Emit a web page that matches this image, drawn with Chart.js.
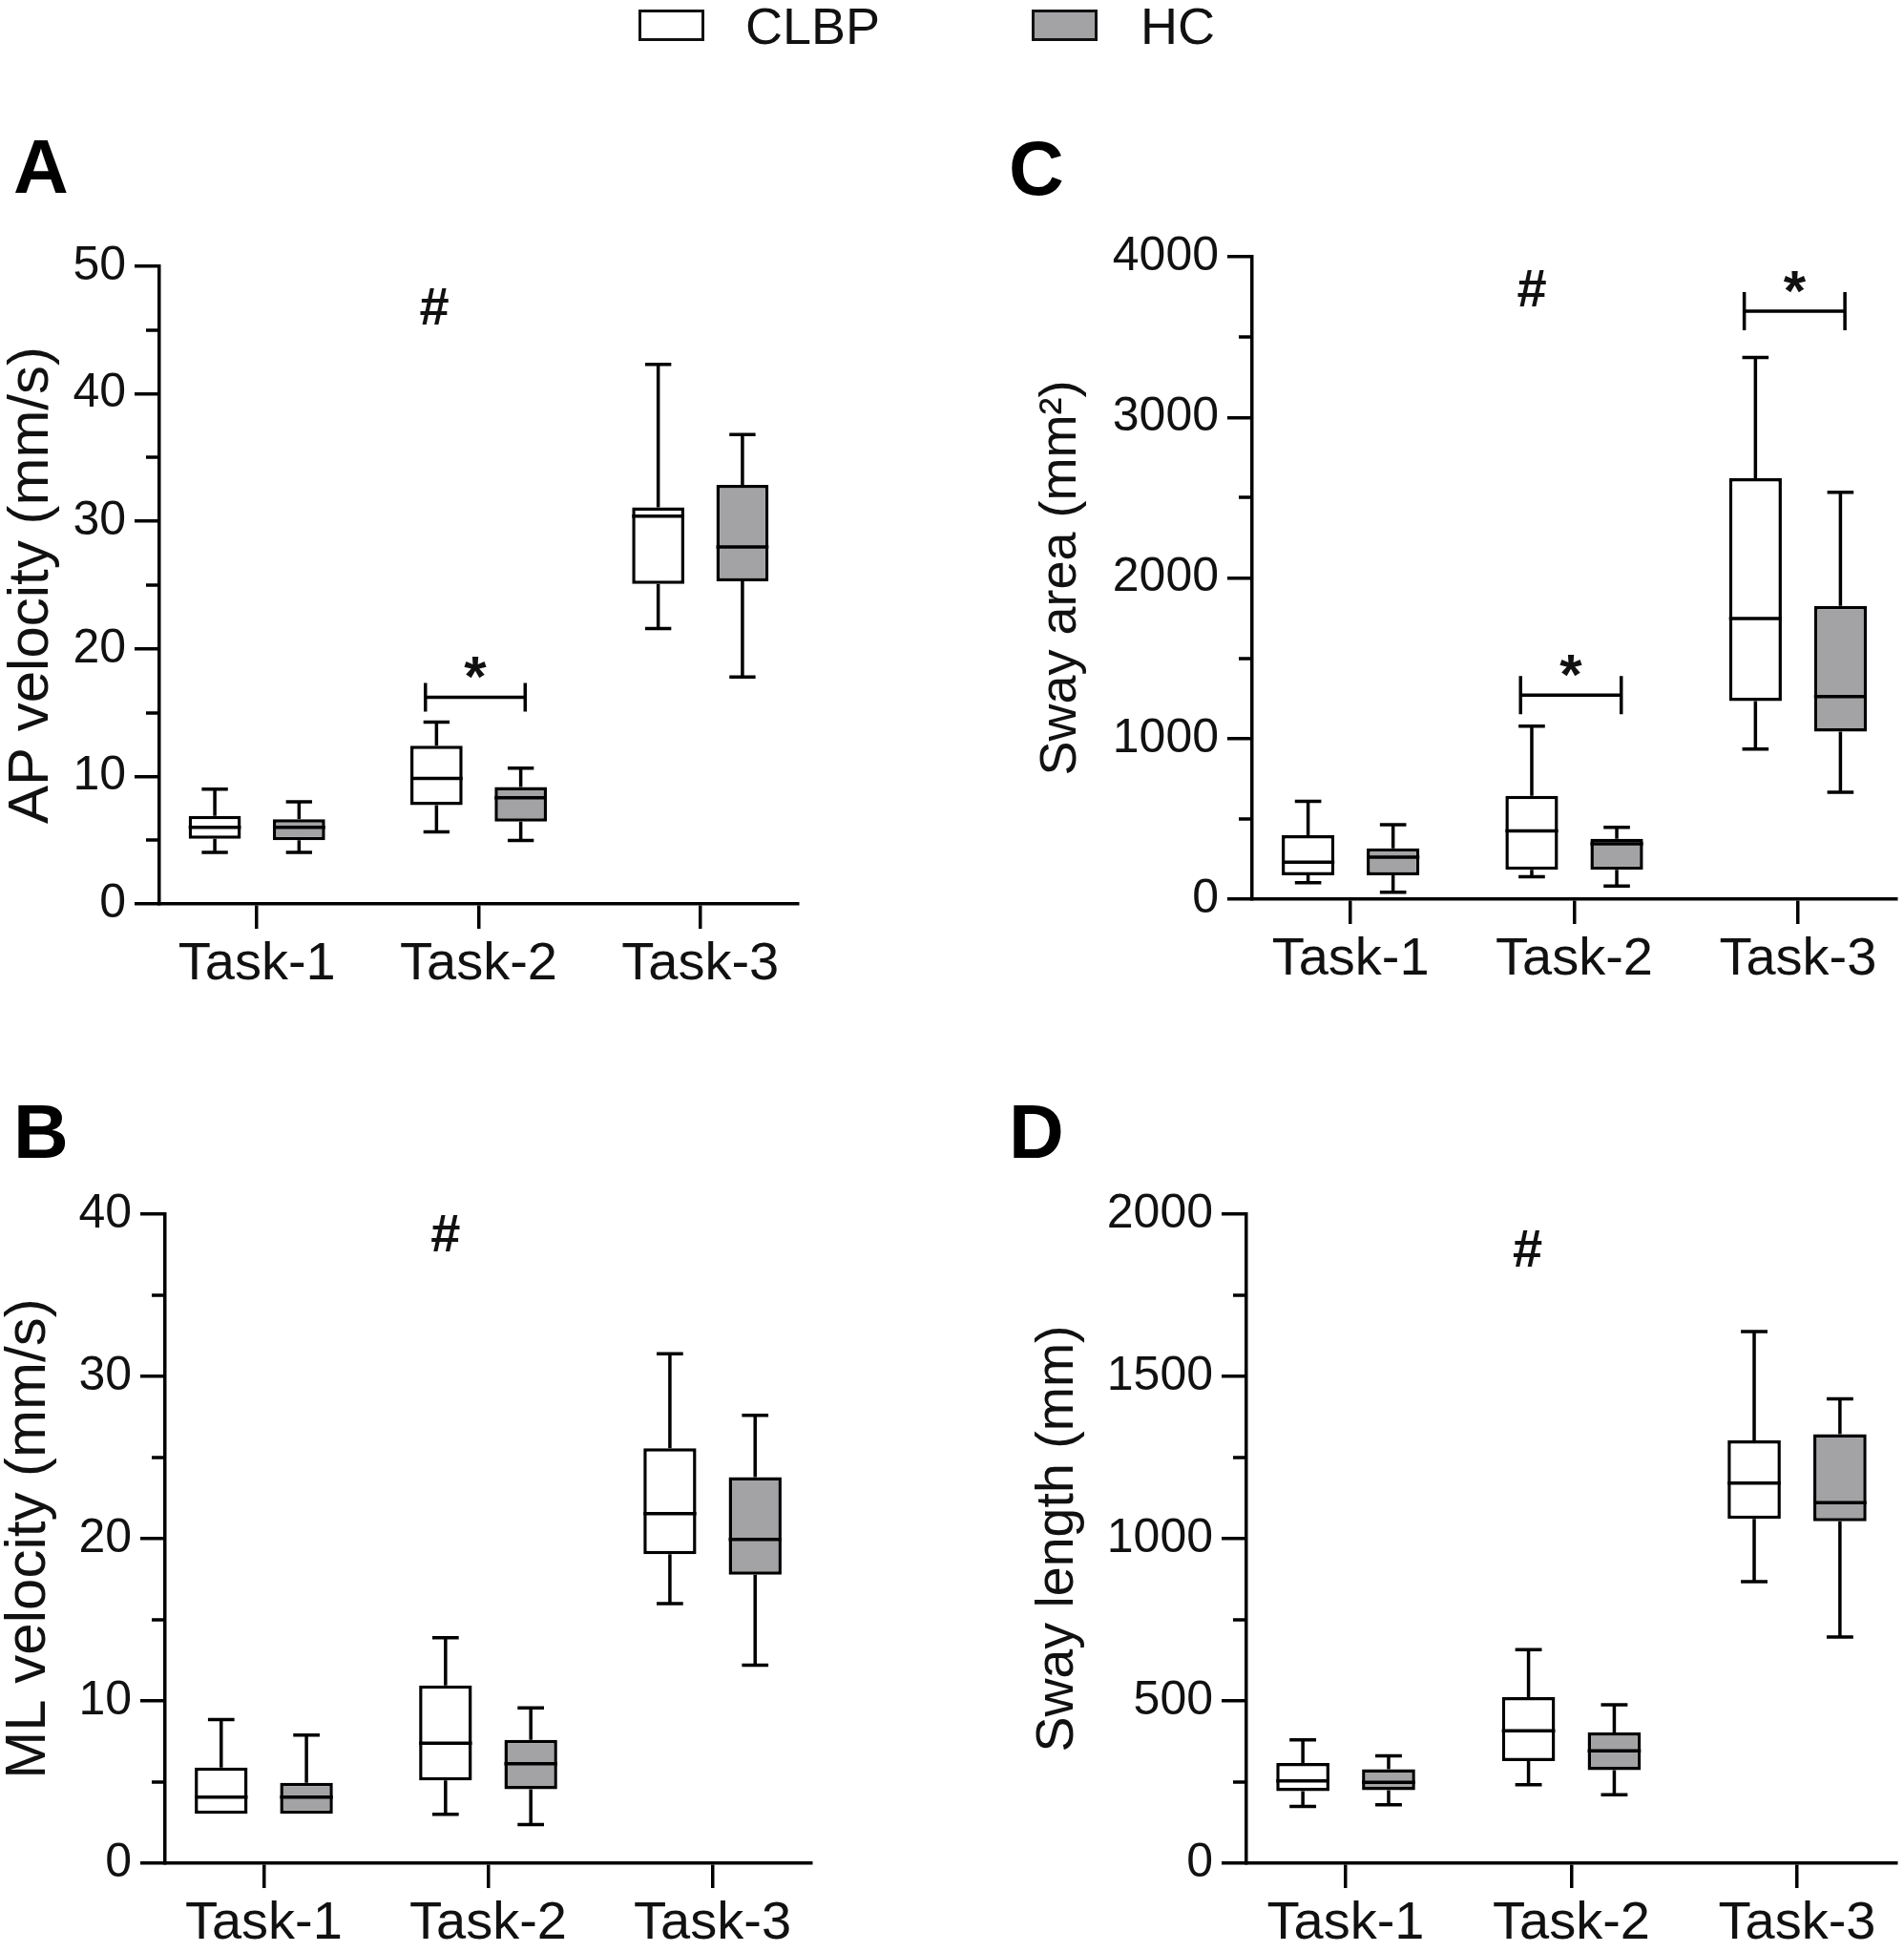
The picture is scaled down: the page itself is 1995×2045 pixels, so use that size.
<!DOCTYPE html>
<html>
<head>
<meta charset="utf-8">
<script src="https://cdn.jsdelivr.net/npm/chart.js@4.4.1/dist/chart.umd.min.js"></script>
<style>
  html, body { margin: 0; padding: 0; background: #fff; }
  body { width: 1995px; height: 2045px; position: relative; overflow: hidden;
         font-family: "Liberation Sans", Arial, sans-serif; color: #111; }
  .panel { position: absolute; }
  .letter { position: absolute; font-weight: bold; font-size: 80px; line-height: 80px; color: #000; }
  .lg-box { position: absolute; box-sizing: border-box; border: 3.5px solid #111; }
  .lg-text { position: absolute; font-size: 54px; line-height: 54px; color: #111; }
</style>
</head>
<body>
<div class="lg-box" style="left:669px;top:10px;width:69px;height:33px;background:#fff"></div>
<div class="lg-text" style="left:781px;top:0px">CLBP</div>
<div class="lg-box" style="left:1081px;top:10px;width:69px;height:33px;background:#a3a3a6"></div>
<div class="lg-text" style="left:1195px;top:0px">HC</div>

<div class="letter" style="left:14px;top:135px">A</div>
<div class="letter" style="left:14px;top:1146px">B</div>
<div class="letter" style="left:1057px;top:137px">C</div>
<div class="letter" style="left:1057px;top:1146px">D</div>

<div class="panel" style="left:0px;top:240px"><canvas id="cA" width="900" height="810"></canvas></div>
<div class="panel" style="left:0px;top:1230px"><canvas id="cB" width="900" height="815"></canvas></div>
<div class="panel" style="left:1000px;top:230px"><canvas id="cC" width="995" height="820"></canvas></div>
<div class="panel" style="left:1000px;top:1230px"><canvas id="cD" width="995" height="815"></canvas></div>

<script>
// ---------- DATA ----------
const categories = ['Task-1', 'Task-2', 'Task-3'];
const groupNames = ['CLBP', 'HC'];

// box statistics per task: [min, q1, median, q3, max]
const apCLBP = [[4.05, 5.1, 6.0, 6.9, 9.0], [5.65, 7.75, 9.85, 12.4, 14.25], [21.6, 25.1, 30.4, 31.1, 42.3]];
const apHC   = [[4.05, 5.0, 6.0, 6.65, 8.0], [4.97, 6.46, 8.33, 9.17, 10.65], [17.8, 25.3, 28.0, 32.85, 36.8]];
const mlCLBP = [[3.05, 3.05, 4.08, 5.89, 8.85], [3.02, 5.1, 7.4, 10.96, 13.9], [16.0, 19.05, 21.55, 25.57, 31.4]];
const mlHC   = [[3.05, 3.05, 4.08, 4.95, 7.9], [2.38, 4.56, 6.13, 7.6, 9.57], [12.2, 17.78, 19.95, 23.8, 27.6]];
const saCLBP = [[102, 149, 230, 398, 609], [140, 183, 425, 643, 1078], [935, 1233, 1748, 2621, 3373]];
const saHC   = [[43, 149, 261, 317, 463], [81, 183, 345, 376, 447], [665, 1043, 1261, 1826, 2534]];
const slCLBP = [[175, 222, 254, 309, 380], [242, 315, 408, 512, 658], [868, 1061, 1171, 1303, 1638]];
const slHC   = [[180, 225, 249, 290, 331], [211, 287, 346, 403, 488], [697, 1054, 1111, 1322, 1431]];

// y tick labels
const apTicks = [0, 10, 20, 30, 40, 50];
const mlTicks = [0, 10, 20, 30, 40];
const saTicks = [0, 1000, 2000, 3000, 4000];
const slTicks = [0, 500, 1000, 1500, 2000];

// significance marks: '#' (task-effect) position and '*' brackets (task index, y value)
const apHash = { x: 0.8, y: 46.9 };
const mlHash = { x: 0.81, y: 38.85 };
const saHash = { x: 0.81, y: 3807 };
const slHash = { x: 0.806, y: 1897 };
const apStars = [{ task: 1, y: 16.2 }];
const mlStars = [];
const saStars = [{ task: 1, y: 1270 }, { task: 2, y: 3661 }];
const slStars = [];

// ---------- DRAWING ----------
const FONT = '"Liberation Sans", Arial, sans-serif';
const INK = '#111';
const LW = 3.5;

const boxPlugin = {
  id: 'boxExtras',
  afterDatasetsDraw(chart, args, opts) {
    const { ctx, scales: { x, y } } = chart;
    ctx.save();
    ctx.strokeStyle = '#000';
    ctx.lineWidth = LW;
    ctx.lineCap = 'butt';
    chart.data.datasets.forEach((ds, di) => {
      const meta = chart.getDatasetMeta(di);
      meta.data.forEach((bar, i) => {
        const s = ds.stats[i];
        const cx = bar.x, w = bar.width, cap = w * 0.5;
        const pMin = y.getPixelForValue(s[0]);
        const pQ1 = y.getPixelForValue(s[1]);
        const pMd = y.getPixelForValue(s[2]);
        const pQ3 = y.getPixelForValue(s[3]);
        const pMax = y.getPixelForValue(s[4]);
        ctx.beginPath();
        if (s[4] > s[3]) {
          ctx.moveTo(cx, pQ3); ctx.lineTo(cx, pMax);
          ctx.moveTo(cx - cap / 2, pMax); ctx.lineTo(cx + cap / 2, pMax);
        }
        if (s[0] < s[1]) {
          ctx.moveTo(cx, pQ1); ctx.lineTo(cx, pMin);
          ctx.moveTo(cx - cap / 2, pMin); ctx.lineTo(cx + cap / 2, pMin);
        }
        ctx.stroke();
        ctx.beginPath();
        ctx.moveTo(cx - w / 2, pMd); ctx.lineTo(cx + w / 2, pMd);
        ctx.stroke();
      });
    });

    // minor ticks on y axis
    const ax = chart.chartArea.left;
    ctx.beginPath();
    for (let v = y.min + opts.minorStep; v < y.max; v += 2 * opts.minorStep) {
      const py = Math.round(y.getPixelForValue(v));
      ctx.moveTo(ax - 14, py); ctx.lineTo(ax, py);
    }
    ctx.stroke();

    // '#' marker
    ctx.fillStyle = INK;
    ctx.textAlign = 'center';
    ctx.textBaseline = 'alphabetic';
    if (opts.hash) {
      ctx.font = 'bold 56px ' + FONT;
      const hx = x.getPixelForValue(opts.hash.x);
      const hy = y.getPixelForValue(opts.hash.y);
      ctx.fillText('#', hx, hy + 0.35 * 56);
    }
    // '*' brackets
    (opts.stars || []).forEach(b => {
      const x1 = x.getPixelForValue(b.task + opts.bracketFrom);
      const x2 = x.getPixelForValue(b.task + opts.bracketTo);
      const py = y.getPixelForValue(b.y);
      const h = opts.bracketHalf;
      ctx.beginPath();
      ctx.moveTo(x1, py); ctx.lineTo(x2, py);
      ctx.moveTo(x1, py - h); ctx.lineTo(x1, py + h);
      ctx.moveTo(x2, py - h); ctx.lineTo(x2, py + h);
      ctx.stroke();
      ctx.font = 'bold 60px ' + FONT;
      ctx.fillText('*', (x1 + x2) / 2, py - 35 + 0.56 * 60);
    });
    ctx.restore();
  }
};

function makeChart(id, cfg) {
  const toFloat = arr => arr.map(s => [s[1], s[3]]);
  const step = cfg.ticks[1] - cfg.ticks[0];
  return new Chart(document.getElementById(id), {
    type: 'bar',
    data: {
      labels: categories,
      datasets: [
        { label: groupNames[0], data: toFloat(cfg.clbp), stats: cfg.clbp,
          backgroundColor: '#ffffff', borderColor: '#000', borderWidth: LW, borderSkipped: false,
          categoryPercentage: 0.76, barPercentage: 0.62 },
        { label: groupNames[1], data: toFloat(cfg.hc), stats: cfg.hc,
          backgroundColor: '#a3a3a6', borderColor: '#000', borderWidth: LW, borderSkipped: false,
          categoryPercentage: 0.76, barPercentage: 0.62 }
      ]
    },
    options: {
      responsive: false,
      animation: false,
      layout: { padding: { top: cfg.padTop, right: cfg.padRight, left: 0, bottom: 0 } },
      plugins: {
        legend: { display: false },
        tooltip: { enabled: false },
        boxExtras: { minorStep: step / 2, hash: cfg.hash, stars: cfg.stars,
                     bracketFrom: -0.24, bracketTo: 0.21, bracketHalf: cfg.bracketHalf }
      },
      scales: {
        x: {
          type: 'category',
          offset: true,
          afterBuildTicks: s => { s._startValue = -0.44; s._valueRange = 2.88; },
          afterFit: s => { s.height = cfg.xHeight; },
          grid: { display: true, drawOnChartArea: false, offset: false, drawTicks: true,
                  tickLength: 26, lineWidth: LW, color: '#000' },
          border: { display: true, width: LW, color: '#000' },
          ticks: { color: INK, padding: 4, font: { family: FONT, size: 56 }, maxRotation: 0 }
        },
        y: {
          min: cfg.ticks[0],
          max: cfg.ticks[cfg.ticks.length - 1],
          afterFit: s => { s.width = cfg.yWidth; },
          grid: { display: true, drawOnChartArea: false, drawTicks: true,
                  tickLength: 26, lineWidth: LW, color: '#000' },
          border: { display: true, width: LW, color: '#000' },
          ticks: { stepSize: step, color: INK, padding: 9,
                   font: { family: FONT, size: 50 }, callback: v => String(v) },
          title: { display: true, text: cfg.title, color: INK,
                   font: { family: FONT, size: cfg.titleSize },
                   padding: { top: cfg.titlePad, bottom: 0 } }
        }
      }
    },
    plugins: [boxPlugin]
  });
}

makeChart('cA', { clbp: apCLBP, hc: apHC, ticks: apTicks, title: 'AP velocity (mm/s)',
  padTop: 39, padRight: 64, yWidth: 167, xHeight: 103, titleSize: 60, titlePad: -3,
  hash: apHash, stars: apStars, bracketHalf: 15 });
makeChart('cB', { clbp: mlCLBP, hc: mlHC, ticks: mlTicks, title: 'ML velocity (mm/s)',
  padTop: 42, padRight: 50, yWidth: 173, xHeight: 93, titleSize: 60, titlePad: -6,
  hash: mlHash, stars: mlStars, bracketHalf: 15 });
makeChart('cC', { clbp: saCLBP, hc: saHC, ticks: saTicks, title: 'Sway area (mm²)',
  padTop: 38, padRight: 8, yWidth: 312, xHeight: 108, titleSize: 54, titlePad: 80,
  hash: saHash, stars: saStars, bracketHalf: 20 });
makeChart('cD', { clbp: slCLBP, hc: slHC, ticks: slTicks, title: 'Sway length (mm)',
  padTop: 42, padRight: 8, yWidth: 306, xHeight: 93, titleSize: 55.5, titlePad: 75,
  hash: slHash, stars: slStars, bracketHalf: 20 });
</script>
</body>
</html>
